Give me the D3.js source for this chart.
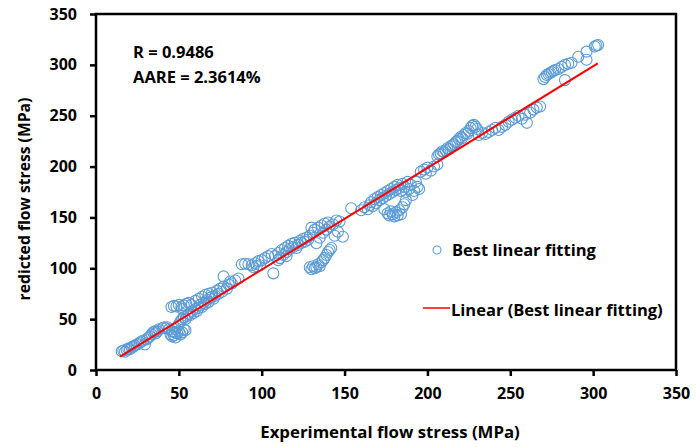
<!DOCTYPE html>
<html>
<head>
<meta charset="utf-8">
<script src="https://cdn.jsdelivr.net/npm/d3@7"></script>
<style>
    body { margin: 0; background: #fff; }
    svg text { font-family: "Open Sans", Lato, sans-serif; font-weight: bold; fill: #000; }
</style>
</head>
<body>
<svg id="chart" width="696" height="447"></svg>
<script>
// experimental vs predicted flow stress (MPa)
var expStress = [
    15.5, 16.5, 17.5, 18.5, 19.5, 20.5, 21.5, 22.5, 23.5, 24.5, 25.5, 26.5, 27.5, 28.5, 29.5, 30.5, 31.5, 32.5, 33.5, 34.5, 35.5, 36, 37, 38, 40, 41, 42, 43, 44,
    45, 46, 47, 47.5, 48, 49, 50, 51, 52, 53, 54, 48, 46,
    45.5, 47, 48.5, 50, 51.5, 53, 54.5, 56, 57.5, 52,
    50, 51, 52, 53, 54, 55, 56, 57, 58, 59, 60, 61, 62, 63, 64, 65, 66, 67, 68, 69, 60, 62, 64, 66, 68, 70,
    70, 71, 72, 73, 74, 75, 76, 77, 77, 79, 80, 81, 82, 84, 86,
    88, 90, 92, 94, 96, 98, 100, 102, 104, 106, 95, 97, 99, 107,
    108, 110, 111, 112, 113, 114, 115, 116, 117, 118, 119, 120, 121, 122, 123, 124, 125, 126, 127, 128, 110, 115,
    129, 130, 131, 132, 133, 134, 135, 136, 137, 138, 139, 140, 141,
    129, 130, 131, 132, 133, 134, 135, 136, 137, 138, 139, 140, 141, 142,
    143, 145, 147, 149, 144, 146, 154,
    160, 162, 164, 165, 166, 167, 168, 169, 170, 171, 172, 173, 174, 175, 176, 177, 178, 179, 180, 181, 182, 183, 184, 185, 186, 187, 188, 189, 190, 191, 192, 193, 194, 195,
    174, 176, 177, 178, 179, 180, 181, 182, 183, 184, 185, 186, 187,
    196, 198, 200, 202, 204, 206, 199,
    206, 207, 208, 209, 210, 211, 212, 213, 214, 215, 216, 217, 218,
    219, 220, 221, 222, 223, 224, 225, 226, 227, 228, 229, 230,
    231, 233, 235, 237, 239, 241, 243, 245, 247,
    249, 251, 253, 255, 257, 259, 260, 262, 264, 266, 268,
    270, 271, 272, 273, 274, 275, 276, 277, 279, 281, 283, 285, 287, 283,
    291, 296, 296, 301, 302, 303
];
var predStress = [
    18.5, 19, 18, 20, 21, 20.5, 22.5, 23, 24, 25, 25.5, 27, 28, 29, 25, 30, 31.5, 33, 35, 37, 38, 36, 38, 40, 41, 42, 41, 42, 40,
    35, 33, 34, 37, 32, 36, 38, 35, 37, 40, 39, 40, 38,
    62, 63, 62.5, 64, 62, 63.5, 65, 66, 64, 60,
    45, 48, 50, 52, 50, 53, 55, 54, 58, 56, 60, 58, 61, 64, 62, 66, 65, 69, 67, 71, 68, 70, 72, 74, 75, 72,
    76, 70, 73, 78, 75, 80, 77, 82, 92, 80, 84, 87, 85, 88, 90,
    104, 104.5, 104, 103, 105, 107, 108, 110, 112, 114, 101, 102, 103, 95,
    112, 115, 110, 118, 113, 120, 116, 122, 119, 124, 121, 125, 120, 123, 127, 125, 129, 126, 130, 128, 108, 112,
    132, 140, 135, 138, 124.6, 140, 130, 142, 135, 144, 138, 145, 141,
    101, 99, 102, 100, 101, 104, 102, 106, 108, 110, 113, 116, 118, 120,
    143, 147, 146, 131, 132, 136, 159,
    157, 160, 158, 162, 165, 161, 168, 164, 170, 167, 172, 169, 174, 171, 176, 173, 178, 175, 180, 177, 182, 179, 176, 183, 180, 175, 185, 178, 182, 172, 176, 185, 180, 178,
    158, 154, 152, 156, 153, 151, 155, 152, 157, 153, 160, 163, 167,
    195, 197, 199, 196, 200, 202, 193,
    210, 212, 213, 215, 214, 216, 218, 217, 220, 221, 222, 224, 225,
    227, 229, 228, 231, 233, 232, 235, 238, 240, 241, 239, 237,
    231, 233, 232, 234, 236, 238, 236, 239, 241,
    244, 246, 248, 250, 247, 251, 243, 253, 256, 258, 259,
    286, 288, 290, 291, 292, 293, 294, 295, 296, 298, 300, 301, 302, 285,
    308, 313, 305, 318, 319, 319.5
];
// end points of the linear trend line
var fitX = [14.5, 302.8];
var fitY = [13.1, 301.5];
var tickValues = [0, 50, 100, 150, 200, 250, 300, 350];
var statLines = ["R = 0.9486", "AARE = 2.3614%"];

var svg = d3.select("#chart");
var x = d3.scaleLinear().domain([0, 350]).range([96, 676]);
var y = d3.scaleLinear().domain([0, 350]).range([370, 14]);

var points = expStress.map(function (d, i) { return { x: d, y: predStress[i] }; });

// scatter
svg.append("g").selectAll("circle")
    .data(points)
    .enter().append("circle")
    .attr("cx", function (d) { return x(d.x); })
    .attr("cy", function (d) { return y(d.y); })
    .attr("r", 5.5)
    .attr("fill", "none")
    .attr("stroke", "#5b9bd5")
    .attr("stroke-width", 1.1);

// trend line
svg.append("line")
    .attr("x1", x(fitX[0])).attr("y1", y(fitY[0]))
    .attr("x2", x(fitX[1])).attr("y2", y(fitY[1]))
    .attr("stroke", "#ff0000")
    .attr("stroke-width", 2);

// frame
svg.append("rect")
    .attr("x", x(0)).attr("y", y(350))
    .attr("width", x(350) - x(0)).attr("height", y(0) - y(350))
    .attr("fill", "none").attr("stroke", "#000").attr("stroke-width", 2.5);

var xAxis = svg.append("g")
    .attr("transform", "translate(0," + y(0) + ")")
    .call(d3.axisBottom(x).tickValues(tickValues).tickSize(6).tickSizeOuter(0).tickPadding(12));
var yAxis = svg.append("g")
    .attr("transform", "translate(" + x(0) + ",0)")
    .call(d3.axisLeft(y).tickValues(tickValues).tickSize(6).tickSizeOuter(0).tickPadding(13));

[xAxis, yAxis].forEach(function (a) {
    a.select(".domain").remove();
    a.selectAll(".tick line").attr("stroke", "#000").attr("stroke-width", 2.5);
    a.selectAll(".tick text").style("font-size", "16px").attr("fill", "#000");
});

// axis titles
svg.append("text")
    .attr("x", 390).attr("y", 438)
    .attr("text-anchor", "middle")
    .style("font-size", "16.8px")
    .text("Experimental flow stress (MPa)");
svg.append("text")
    .attr("transform", "translate(30,199) rotate(-90)")
    .attr("text-anchor", "middle")
    .style("font-size", "15.7px")
    .text("redicted flow stress (MPa)");

// stats
svg.selectAll(".stat")
    .data(statLines)
    .enter().append("text")
    .attr("class", "stat")
    .attr("x", 133)
    .attr("y", function (d, i) { return 58 + i * 24.5; })
    .style("font-size", "16.5px")
    .text(function (d) { return d; });

// legend
svg.append("circle")
    .attr("cx", 437).attr("cy", 250).attr("r", 4)
    .attr("fill", "none").attr("stroke", "#5b9bd5").attr("stroke-width", 1.1);
svg.append("text")
    .attr("x", 452).attr("y", 255.5)
    .style("font-size", "16.5px")
    .text("Best linear fitting");
svg.append("line")
    .attr("x1", 423).attr("x2", 450).attr("y1", 308).attr("y2", 308)
    .attr("stroke", "#ff0000").attr("stroke-width", 1.5);
svg.append("text")
    .attr("x", 451).attr("y", 315.5)
    .style("font-size", "16.5px")
    .text("Linear (Best linear fitting)");
</script>
</body>
</html>
